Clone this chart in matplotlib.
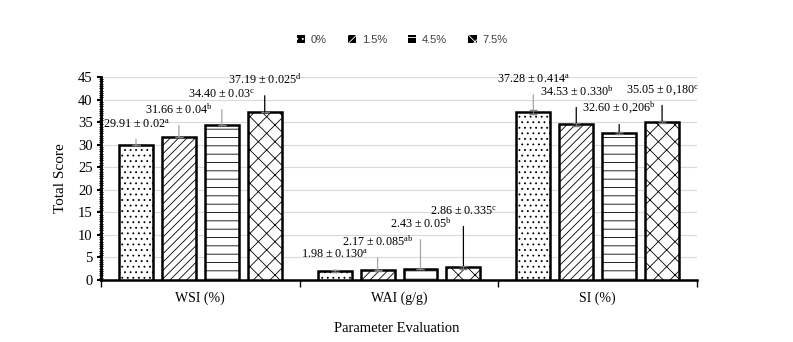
import numpy as np
import matplotlib
matplotlib.use("Agg")
import matplotlib.pyplot as plt
from matplotlib.patches import Patch
from matplotlib.ticker import MultipleLocator

plt.rcParams["font.family"] = ["Liberation Serif", "DejaVu Serif"]
plt.rcParams["mathtext.fontset"] = "custom"
plt.rcParams["mathtext.rm"] = "Liberation Serif"
plt.rcParams["mathtext.it"] = "Liberation Serif:italic"
plt.rcParams["hatch.linewidth"] = 0.6

categories = ["WSI (%)", "WAI (g/g)", "SI (%)"]
series_names = ["0%", "1.5%", "4.5%", "7.5%"]

# mean values per level, one list per category
wsi_means = [29.91, 31.66, 34.40, 37.19]
wai_means = [1.98, 2.17, 2.43, 2.86]
si_means = [37.28, 34.53, 32.60, 35.05]

wsi_sd = [0.02, 0.04, 0.03, 0.025]
wai_sd = [0.130, 0.085, 0.05, 0.335]
si_sd = [0.414, 0.330, 0.206, 0.180]

wsi_letters = ["a", "b", "c", "d"]
wai_letters = ["a", "ab", "b", "c"]
si_letters = ["a", "b", "b", "c"]

wsi_sd_text = ["0.02", "0.04", "0.03", "0.025"]
wai_sd_text = ["0.130", "0.085", "0.05", "0.335"]
si_sd_text = ["0.414", "0.330", "0,206", "0,180"]

means = np.array([wsi_means, wai_means, si_means])
sds = np.array([wsi_sd, wai_sd, si_sd])
letters = [wsi_letters, wai_letters, si_letters]
sd_texts = [wsi_sd_text, wai_sd_text, si_sd_text]

# heights (data units) where each value label sits
label_y = [[34.4, 37.7, 41.0, 44.3],
           [5.5, 8.4, 12.4, 15.1],
           [44.3, 41.7, 38.1, 42.1]]
leader_colors = [["#a6a6a6", "#a6a6a6", "#a6a6a6", "black"],
                 ["#a6a6a6", "#a6a6a6", "#a6a6a6", "black"],
                 ["#a6a6a6", "black", "black", "black"]]

hatches = ["...", "////", "--", "xx"]

fig = plt.figure(figsize=(7.93, 3.42), dpi=100)
ax = fig.add_axes([0.1274, 0.1813, 0.7516, 0.5936])

x = np.arange(len(categories))
step = 0.216
width = 0.171
offsets = (np.arange(4) - 1.5) * step

for j in range(4):
    ax.bar(x + offsets[j], means[:, j], width, color="white",
           edgecolor="black", linewidth=1.8, hatch=hatches[j],
           zorder=3, label=series_names[j])
    ax.errorbar(x + offsets[j], means[:, j], yerr=sds[:, j], fmt="none",
                ecolor="#7f7f7f", elinewidth=0.8, capsize=3, zorder=4)
    for i in range(len(categories)):
        top = means[i, j] + sds[i, j]
        txt = f"{means[i, j]:.2f} ± {sd_texts[i][j]}$^{{\\mathrm{{{letters[i][j]}}}}}$"
        ax.annotate(txt, xy=(x[i] + offsets[j], top),
                    xytext=(x[i] + offsets[j], label_y[i][j]),
                    ha="center", va="center", fontsize=8.7, zorder=5,
                    arrowprops=dict(arrowstyle="-", color=leader_colors[i][j],
                                    lw=0.9, shrinkA=4, shrinkB=0))

ax.set_xlim(-0.5, 2.5)
ax.set_ylim(0, 45)
ax.set_yticks(np.arange(0, 46, 5))
ax.yaxis.set_minor_locator(MultipleLocator(0.5))
ax.yaxis.grid(True, which="major", color="#d9d9d9", linewidth=0.8, zorder=0)
ax.set_axisbelow(True)

ax.set_xticks(x)
ax.set_xticklabels(categories, fontsize=10)
ax.tick_params(axis="x", length=0, pad=8)
ax.set_xticks([-0.5, 0.5, 1.5, 2.5], minor=True)
ax.tick_params(axis="x", which="minor", length=5, width=1, direction="out")
ax.tick_params(axis="y", which="major", labelsize=10.5, length=3, width=1.5, pad=3)
ax.tick_params(axis="y", which="minor", length=2.5, width=0.8, direction="inout")

for s in ["top", "right"]:
    ax.spines[s].set_visible(False)
ax.spines["left"].set_linewidth(2)
ax.spines["bottom"].set_linewidth(1.8)

ax.set_ylabel("Total Score", fontsize=11, labelpad=8)
fig.text(0.5, 1 - 329 / 342, "Parameter Evaluation", ha="center", va="center",
         fontsize=10.5)

# small legend keys: black squares carrying the fill pattern in white
legend_handles = [Patch(facecolor="black", edgecolor="white", hatch=h,
                        linewidth=0.0) for h in hatches]
leg = fig.legend(handles=legend_handles, labels=series_names, loc="center",
                 bbox_to_anchor=(0.507, 1 - 40 / 342), ncol=4, frameon=False,
                 prop={"family": "Liberation Sans", "size": 8},
                 handlelength=0.75, handleheight=0.75, columnspacing=1.9,
                 handletextpad=0.5)
for t in leg.get_texts():
    t.set_color("#404040")

fig.savefig("out.png", dpi=100)
